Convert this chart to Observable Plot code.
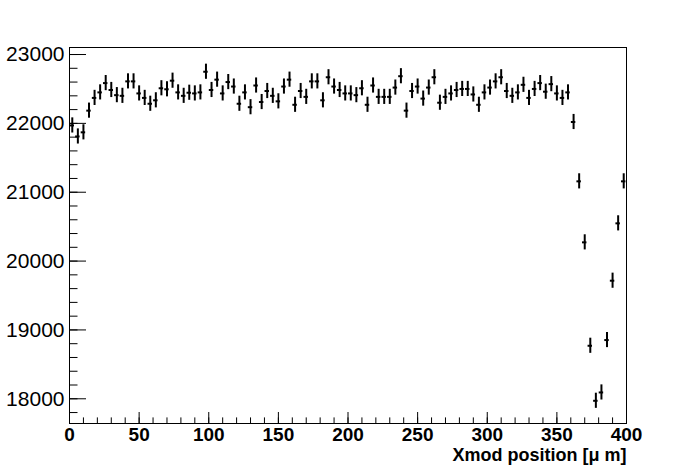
<!DOCTYPE html>
<html>
<head>
<meta charset="utf-8">
<script src="https://cdn.jsdelivr.net/npm/d3@7"></script>
<script src="https://cdn.jsdelivr.net/npm/@observablehq/plot@0.6"></script>
<style>
  html, body { margin: 0; padding: 0; background: #fff; }
  #chart { width: 696px; height: 472px; }
</style>
</head>
<body>
<div id="chart"></div>
<script>
// Bin centers (µm): 100 bins of width 4 µm
const binWidth = 4;
const counts = [
  21970, 21810, 21870, 22185, 22370, 22450, 22585, 22485, 22410, 22400,
  22610, 22610, 22435, 22370, 22285, 22335, 22510, 22495, 22620, 22450,
  22400, 22445, 22435, 22450, 22750, 22485, 22635, 22435, 22600, 22535,
  22285, 22450, 22235, 22550, 22310, 22470, 22400, 22320, 22535, 22635,
  22270, 22470, 22385, 22610, 22610, 22335, 22670, 22535, 22485, 22435,
  22435, 22410, 22510, 22270, 22550, 22385, 22385, 22385, 22520, 22685,
  22185, 22470, 22535, 22360, 22520, 22670, 22300, 22385, 22435, 22485,
  22500, 22500, 22420, 22270, 22450, 22520, 22610, 22670, 22470, 22400,
  22450, 22560, 22370, 22500, 22585, 22460, 22570, 22435, 22370, 22450,
  22020, 21158, 20272, 18770, 17971, 18092, 18853, 19715, 20548, 21158
];
const errorHalf = 110; // vertical error half-length (counts)
const xMajorTicks = [0, 50, 100, 150, 200, 250, 300, 350, 400];
const xMinorTicks = d3.range(0, 401, 10);
const yMajorTicks = [18000, 19000, 20000, 21000, 22000, 23000];
const yMinorTicks = d3.range(17800, 23001, 200);
const xTitle = "Xmod position [\u03bc m]";

const data = counts.map((v, i) => ({x: binWidth * i + binWidth / 2, v}));

const chart = Plot.plot({
  width: 696,
  height: 472,
  marginLeft: 69,
  marginRight: 70,
  marginTop: 47,
  marginBottom: 49,
  style: {fontFamily: "'Liberation Sans', Arial, sans-serif", background: "#fff", color: "#000"},
  x: {domain: [0, 400]},
  y: {domain: [17641, 23102]},
  marks: [
    Plot.frame({stroke: "#000", strokeWidth: 1}),
    // Y ticks (inward)
    Plot.axisY({ticks: yMajorTicks, tickSize: -17, text: null, label: null, strokeWidth: 1}),
    Plot.axisY({ticks: yMinorTicks, tickSize: -8.5, text: null, label: null, strokeWidth: 1}),
    Plot.axisY({ticks: yMajorTicks, tickSize: 0, tickPadding: 5, label: null, fontSize: 21, tickFormat: d => String(d)}),
    // X ticks (inward)
    Plot.axisX({ticks: xMajorTicks, tickSize: -11, text: null, label: null, strokeWidth: 1}),
    Plot.axisX({ticks: xMinorTicks, tickSize: -5.6, text: null, label: null, strokeWidth: 1}),
    Plot.axisX({ticks: xMajorTicks, tickSize: 0, tickPadding: 4, label: null, fontSize: 19, fontWeight: "bold", tickFormat: d => String(d)}),
    Plot.text([xTitle], {frameAnchor: "bottom-right", text: d => d, dy: 32, fontSize: 18, fontWeight: "bold", textAnchor: "end", lineAnchor: "middle"}),
    // Error bars
    Plot.ruleX(data, {x: "x", y1: d => d.v - errorHalf, y2: d => d.v + errorHalf, stroke: "#000", strokeWidth: 2}),
    Plot.ruleY(data, {y: "v", x1: d => d.x - 1.6, x2: d => d.x + 1.6, stroke: "#000", strokeWidth: 2})
  ]
});
document.getElementById("chart").appendChild(chart);
</script>
</body>
</html>
